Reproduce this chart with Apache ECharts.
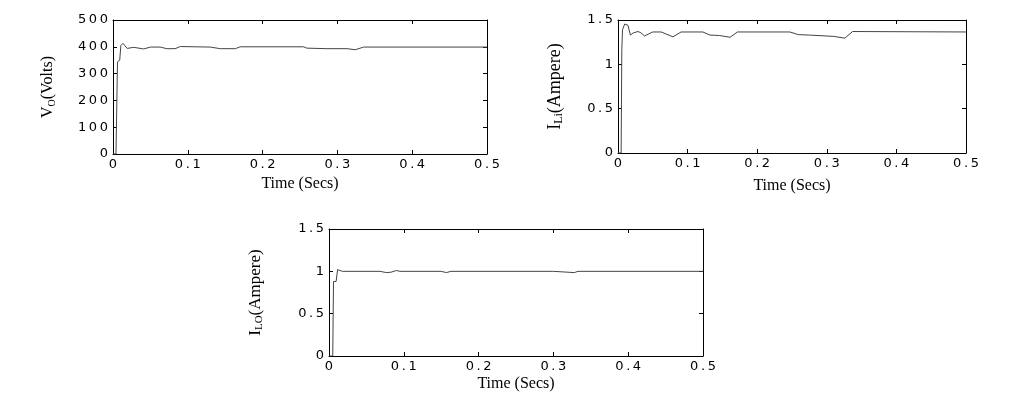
<!DOCTYPE html>
<html>
<head>
<meta charset="utf-8">
<script src="https://cdn.jsdelivr.net/npm/echarts@6/dist/echarts.min.js"></script>
<style>
  html, body { margin: 0; padding: 0; background: #fff; }
  #main { width: 1019px; height: 398px; }
</style>
</head>
<body>
<div id="main"></div>
<script>
// 输出电压 V_O
const voTime = [0, 0.004, 0.006, 0.009, 0.0105, 0.0133, 0.019, 0.0276, 0.041, 0.05, 0.063, 0.072, 0.083, 0.09, 0.13, 0.1435, 0.1635, 0.17, 0.255, 0.259, 0.286, 0.313, 0.324, 0.335, 0.5];
const vo = [0, 0, 344, 350, 405, 413, 394, 398, 392, 399, 399, 393, 393, 401, 399, 393, 393, 400, 400, 395, 393, 393, 389, 399, 399];

// 输入电感电流 I_Li
const iliTime = [0, 0.0045, 0.0055, 0.0065, 0.0096, 0.0144, 0.0178, 0.022, 0.0288, 0.033, 0.038, 0.05, 0.062, 0.079, 0.0906, 0.122, 0.132, 0.146, 0.161, 0.1715, 0.247, 0.259, 0.275, 0.31, 0.326, 0.337, 0.5];
const ili = [0, 0, 1.17, 1.39, 1.455, 1.44, 1.33, 1.355, 1.37, 1.355, 1.32, 1.365, 1.365, 1.31, 1.365, 1.365, 1.33, 1.325, 1.305, 1.365, 1.365, 1.335, 1.33, 1.315, 1.295, 1.37, 1.365];

// 输出电感电流 I_LO
const iloTime = [0, 0.005, 0.006, 0.0095, 0.0115, 0.0125, 0.018, 0.068, 0.077, 0.083, 0.09, 0.095, 0.15, 0.157, 0.163, 0.3, 0.3015, 0.328, 0.333, 0.5];
const ilo = [0, 0, 0.88, 0.88, 1.02, 1.03, 1.0, 1.0, 0.985, 0.99, 1.01, 1.0, 1.0, 0.985, 1.0, 1.0, 0.985, 0.985, 1.0, 1.0];

const chart = echarts.init(document.getElementById('main'));

const grids = [
    { left: 113, top: 20, width: 374, height: 134 },
    { left: 618, top: 20, width: 348, height: 133 },
    { left: 329, top: 229, width: 374, height: 127 }
];

// 字符间加细空格，模拟原图宽松的刻度字体
function spaced(v) {
    return String(v).split('').join('\u2009');
}

const tickFont = { fontFamily: 'DejaVu Sans', fontSize: 13, color: '#000' };
const serif = 'Liberation Serif';

function axisBase(extra) {
    return Object.assign({
        type: 'value',
        axisLine: { show: true, onZero: false, lineStyle: { color: '#000', width: 1 } },
        axisTick: { show: true, inside: true, length: 4, lineStyle: { color: '#000' } },
        splitLine: { show: false }
    }, extra);
}

const yNames = [
    { name: '{m|V}{s|O}{m|(Volts)}', gap: 56, size: 16, max: 500, interval: 100 },
    { name: '{m|I}{s|Li}{m|(Ampere)}', gap: 53, size: 18, max: 1.5, interval: 0.5 },
    { name: '{m|I}{s|LO}{m|(Ampere)}', gap: 64, size: 17, max: 1.5, interval: 0.5 }
];
const xGaps = [22, 25, 20];

const xAxis = [];
const yAxis = [];
grids.forEach((g, i) => {
    xAxis.push(axisBase({
        gridIndex: i, min: 0, max: 0.5, interval: 0.1, position: 'bottom',
        name: 'Time (Secs)', nameLocation: 'middle', nameGap: xGaps[i],
        nameTextStyle: { fontFamily: serif, fontSize: 16, color: '#000' },
        axisLabel: Object.assign({ margin: 4, formatter: spaced }, tickFont)
    }));
    xAxis.push(axisBase({
        gridIndex: i, min: 0, max: 0.5, interval: 0.1, position: 'top',
        axisLabel: { show: false }
    }));
    const yn = yNames[i];
    yAxis.push(axisBase({
        gridIndex: i, min: 0, max: yn.max, interval: yn.interval, position: 'left',
        name: yn.name, nameLocation: 'middle', nameGap: yn.gap,
        nameTextStyle: {
            fontFamily: serif, fontSize: yn.size, color: '#000',
            rich: {
                m: { fontFamily: serif, fontSize: yn.size, color: '#000' },
                s: { fontFamily: serif, fontSize: Math.round(yn.size * 0.65), color: '#000', padding: [8, 0, 0, 0] }
            }
        },
        axisLabel: Object.assign({ margin: 5, formatter: spaced }, tickFont)
    }));
    yAxis.push(axisBase({
        gridIndex: i, min: 0, max: yn.max, interval: yn.interval, position: 'right',
        axisLabel: { show: false }
    }));
});

function pairs(xs, ys) {
    return xs.map((x, k) => [x, ys[k]]);
}

function lineSeries(idx, data) {
    return {
        type: 'line',
        xAxisIndex: idx * 2,
        yAxisIndex: idx * 2,
        data: data,
        showSymbol: false,
        symbol: 'none',
        lineStyle: { color: '#444', width: 1 },
        silent: true
    };
}

chart.setOption({
    animation: false,
    backgroundColor: '#fff',
    grid: grids,
    xAxis: xAxis,
    yAxis: yAxis,
    series: [
        lineSeries(0, pairs(voTime, vo)),
        lineSeries(1, pairs(iliTime, ili)),
        lineSeries(2, pairs(iloTime, ilo))
    ]
});
</script>
</body>
</html>
